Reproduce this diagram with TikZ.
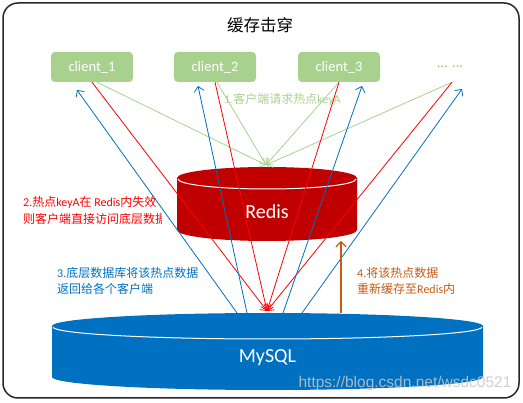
\documentclass[tikz,border=0pt]{standalone}
\usepackage{fontspec}
\setmainfont{Carlito}
\newfontfamily\cjk{Noto Sans CJK SC}
\newfontfamily\webfont{Liberation Sans}
\usetikzlibrary{arrows.meta}
\newcommand{\zh}[1]{{\cjk #1}}
\definecolor{clientgreen}{HTML}{A9D18E}
\definecolor{dotgreen}{HTML}{92D050}
\definecolor{hotred}{HTML}{FF0000}
\definecolor{redisred}{HTML}{C00000}
\definecolor{dbblue}{HTML}{0070C0}
\definecolor{cacheorange}{HTML}{C55A11}

\begin{document}
\begin{tikzpicture}[x=1pt,y=1pt]
	\tikzstyle{every node}+=[inner sep=0pt]
	\tikzstyle{client}=[fill=clientgreen,rounded corners=4pt,minimum width=82pt,minimum height=30pt,text=white,font=\fontsize{14.5}{16}\selectfont]
	\tikzstyle{flow}=[line width=0.8pt,-{Straight Barb[length=5pt,width=10pt]}]
	\tikzstyle{note}=[align=left,anchor=west,font=\fontsize{12}{16.5}\selectfont]
	\useasboundingbox (0,0) rectangle (523,-403);
	\draw [black!85,line width=1.5pt,rounded corners=15pt] (3,-3) rectangle (519,-398);
	\node (title) at (260,-25) {\fontsize{16.5}{18}\cjk 缓存击穿};
	\node [client] (c1) at (92,-67) {client\_1};
	\node [client] (c2) at (215,-67) {client\_2};
	\node [client] (c3) at (339,-67) {client\_3};
	\node [minimum height=30pt,text=dotgreen,font=\fontsize{14.5}{16}\selectfont] (c4) at (450,-67) {... ...};
	\fill [redisred] (177,-178) -- (177,-230) arc[start angle=180,end angle=360,x radius=90,y radius=11] -- (357,-178) arc[start angle=0,end angle=180,x radius=90,y radius=11] -- cycle;
	\draw [white,line width=1pt] (178,-179) arc[start angle=180,end angle=360,x radius=89,y radius=10];
	\node [text=white,font=\fontsize{20}{22}\selectfont] (redis) at (267,-212) {Redis};
	\fill [dbblue] (52,-326) -- (52,-377) arc[start angle=180,end angle=360,x radius=215.5,y radius=13] -- (483,-326) arc[start angle=0,end angle=180,x radius=215.5,y radius=13] -- cycle;
	\draw [white,line width=1pt] (53,-327) arc[start angle=180,end angle=360,x radius=214.5,y radius=12];
	\node [text=white,font=\fontsize{20}{22}\selectfont] (mysql) at (267.5,-358) {MySQL};
	\node [note,text=clientgreen] (ask) at (224,-99) {1.\zh{客户端请求热点}keyA};
	\begin{scope}
		\clip (0,0) rectangle (161,-403);
		\node [note,text=hotred] (miss) at (23,-210.5) {2.\zh{热点}keyA\zh{在} Redis\zh{内失效}\\\zh{则客户端直接访问底层数据}};
	\end{scope}
	\node [note,text=dbblue] (back) at (57,-281) {3.\zh{底层数据库将该热点数据}\\\zh{返回给各个客户端}};
	\node [note,text=cacheorange] (store) at (357,-281) {4.\zh{将该热点数据}\\\zh{重新缓存至}Redis\zh{内}};
	\coordinate (req) at (266,-165);
	\coordinate (hit) at (267,-311);
	\coordinate (m1) at (237,-313);
	\coordinate (m2) at (247,-313);
	\coordinate (m3) at (283,-313);
	\coordinate (m4) at (302,-313);
	\coordinate (b1) at (77,-90);
	\coordinate (b2) at (198,-86);
	\coordinate (b3) at (362,-86);
	\coordinate (b4) at (462,-89);
	\coordinate (m5) at (341,-313);
	\coordinate (r5) at (341,-241);
	\draw [flow,clientgreen] ([xshift=5pt]c1.south) -- (req);
	\draw [flow,clientgreen] ([xshift=2pt]c2.south) -- (req);
	\draw [flow,clientgreen] (c3.south) -- (req);
	\draw [flow,clientgreen] ([xshift=2pt]c4.south) -- (req);
	\draw [flow,hotred] (c1.south) -- (hit);
	\draw [flow,hotred] (c2.south) -- (hit);
	\draw [flow,hotred] (c3.south) -- (hit);
	\draw [flow,hotred] ([xshift=2pt]c4.south) -- (hit);
	\draw [flow,dbblue] (m1) -- (b1);
	\draw [flow,dbblue] (m2) -- (b2);
	\draw [flow,dbblue] (m3) -- (b3);
	\draw [flow,dbblue] (m4) -- (b4);
	\draw [flow,cacheorange,line width=1.2pt] (m5) -- (r5);
	\node [text=black!22,opacity=0.85,font=\webfont\fontsize{15.5}{17}\selectfont] (mark) at (405,-383) {https://blog.csdn.net/wsdc0521};
\end{tikzpicture}
\end{document}
